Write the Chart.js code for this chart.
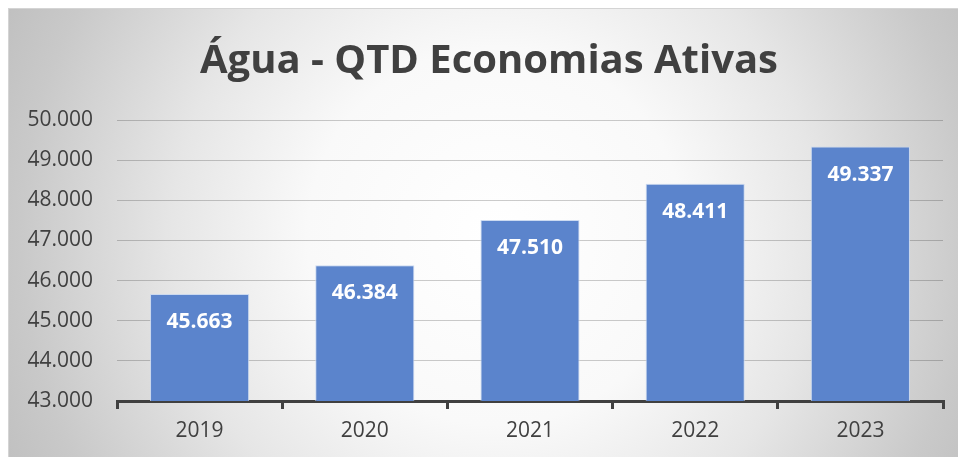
<!DOCTYPE html>
<html lang="pt-BR">
<head>
    <meta charset="UTF-8">
    <title>Água - QTD Economias Ativas</title>
    <script src="https://cdn.jsdelivr.net/npm/chart.js"></script>
    <style>
        html, body {
            margin: 0;
            padding: 0;
            background: #ffffff;
            overflow: hidden;
        }
        .frame {
            position: absolute;
            left: 8px;
            top: 8px;
            width: 960px;
            height: 460px;
            border-left: 1px solid #d4d4d4;
            border-top: 1px solid #d4d4d4;
            background: radial-gradient(circle 540px at 487px 227px, #ffffff 0%, #f9f9f9 35%, #e6e6e6 60%, #c9c9c9 88%, #c0c0c0 100%);
        }
        #chart-box {
            position: absolute;
            left: 0;
            top: 0;
            width: 958px;
            height: 457px;
        }
    </style>
</head>
<body>
    <div class="frame"></div>
    <div id="chart-box">
        <canvas id="economiasChart"></canvas>
    </div>

    <script>
        const titulo = "Água - QTD Economias Ativas";
        const anos = ["2019", "2020", "2021", "2022", "2023"];
        const economias = [45663, 46384, 47510, 48411, 49337];
        const yMin = 43000;
        const yMax = 50000;
        const yStep = 1000;

        const textColor = "#404040";

        // 45663 -> "45.663"
        function formatNumber(v) {
            return String(v).replace(/\B(?=(\d{3})+(?!\d))/g, ".");
        }

        // chart title, centred on the whole frame rather than the plot
        const frameTitle = {
            id: "frameTitle",
            afterDraw(chart) {
                const ctx = chart.ctx;
                ctx.save();
                ctx.fillStyle = textColor;
                ctx.font = "bold 40px 'Open Sans'";
                ctx.textAlign = "center";
                ctx.textBaseline = "alphabetic";
                ctx.fillText(titulo, 489, 73);
                ctx.restore();
            }
        };

        // white value labels inside the top of each bar
        const barValues = {
            id: "barValues",
            afterDatasetsDraw(chart) {
                const ctx = chart.ctx;
                const meta = chart.getDatasetMeta(0);
                ctx.save();
                ctx.fillStyle = "#ffffff";
                ctx.font = "bold 21px 'Open Sans'";
                ctx.textAlign = "center";
                ctx.textBaseline = "middle";
                meta.data.forEach((bar, i) => {
                    ctx.fillText(formatNumber(economias[i]), bar.x, bar.y + 28);
                });
                ctx.restore();
            }
        };

        new Chart(document.getElementById("economiasChart"), {
            type: "bar",
            data: {
                labels: anos,
                datasets: [{
                    label: "Economias Ativas",
                    data: economias,
                    backgroundColor: "#5b84cc",
                    borderColor: "rgba(200, 215, 240, 0.9)",
                    borderWidth: 1,
                    barPercentage: 0.6,
                    categoryPercentage: 1.0
                }]
            },
            options: {
                responsive: true,
                maintainAspectRatio: false,
                animation: false,
                layout: {
                    padding: { left: 0, right: 15, top: 120, bottom: 0 }
                },
                plugins: {
                    legend: { display: false },
                    tooltip: { enabled: false },
                    title: { display: false }
                },
                scales: {
                    x: {
                        grid: {
                            offset: true,
                            drawOnChartArea: false,
                            drawTicks: true,
                            tickLength: 8,
                            color: "#404040",
                            lineWidth: 3
                        },
                        border: { color: "#404040", width: 3 },
                        ticks: {
                            color: textColor,
                            font: { family: "'Open Sans'", size: 21 },
                            padding: 9
                        },
                        afterFit(scale) {
                            scale.height = 56;
                        }
                    },
                    y: {
                        min: yMin,
                        max: yMax,
                        grid: {
                            color: "rgba(0, 0, 0, 0.2)",
                            lineWidth: 1,
                            drawTicks: false
                        },
                        border: { display: false },
                        ticks: {
                            stepSize: yStep,
                            color: textColor,
                            font: { family: "'Open Sans'", size: 21 },
                            padding: 24,
                            callback: (v) => formatNumber(v)
                        },
                        afterFit(scale) {
                            scale.width = 117;
                        }
                    }
                }
            },
            plugins: [barValues, frameTitle]
        });
    </script>
</body>
</html>
